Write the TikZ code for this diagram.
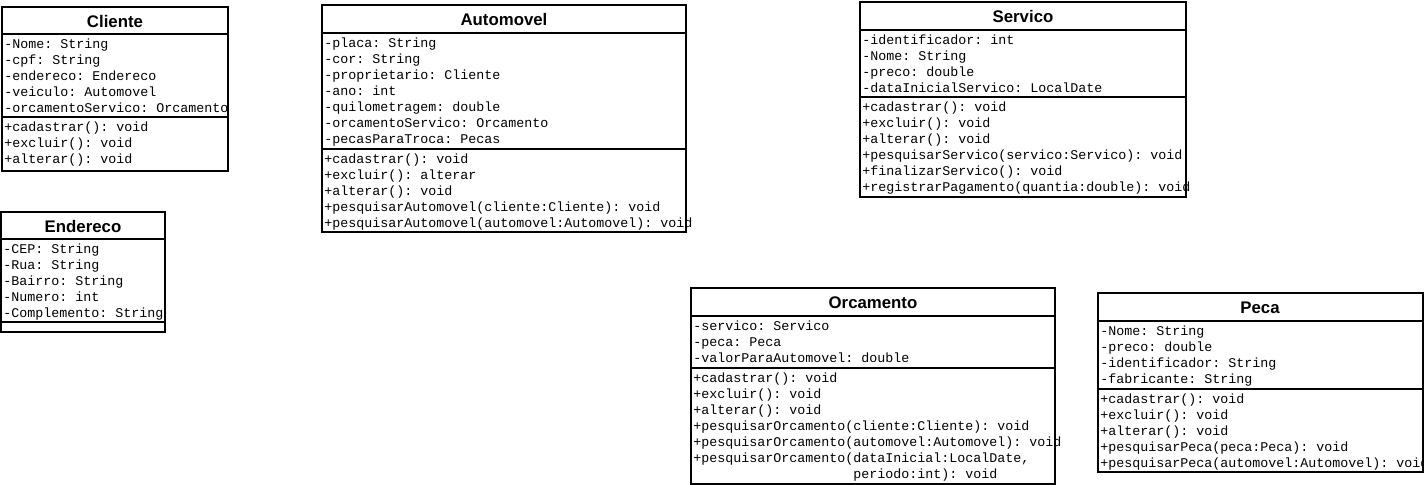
\documentclass[tikz,border=0pt]{standalone}
\usepackage{fontspec}
\setmainfont{Liberation Sans}
\newfontfamily\umlmono{Liberation Mono}
\usepackage{tikz}

\tikzset{
  classbox/.style={draw=black, line width=1pt, fill=white},
  divider/.style={draw=black, line width=1pt},
  classname/.style={font=\bfseries\fontsize{8.4}{10}\selectfont, inner sep=0pt,
    text height=6pt, text depth=0pt},
  members/.style={font=\umlmono\fontsize{6.667}{8}\selectfont\frenchspacing, inner sep=0pt,
    anchor=north west, align=left},
}

\begin{document}
\begin{tikzpicture}[x=0.5pt, y=-0.5pt]

    \fill[white] (0, 0) rectangle (1424, 485);
    \useasboundingbox (0, 0) rectangle (1424, 485);

    % Cliente
    \draw[classbox] (2, 7) rectangle (228, 171);
    \draw[divider] (2, 34) -- (228, 34);
    \draw[divider] (2, 117) -- (228, 117);
    \node[classname] (cliente) at (115, 21.5) {Cliente};
    \node[members] (cliente-attr) at (4, 36.5) {\strut-Nome: String\\-cpf: String\\-endereco: Endereco\\-veiculo: Automovel\\-orcamentoServico: Orcamento};
    \node[members] (cliente-ops) at (4, 119.5) {\strut+cadastrar(): void\\+excluir(): void\\+alterar(): void};

    % Endereco
    \draw[classbox] (1, 212) rectangle (165, 332);
    \draw[divider] (1, 239) -- (165, 239);
    \draw[divider] (1, 322) -- (165, 322);
    \node[classname] (endereco) at (83, 226.5) {Endereco};
    \node[members] (endereco-attr) at (3, 241.5) {\strut-CEP: String\\-Rua: String\\-Bairro: String\\-Numero: int\\-Complemento: String};

    % Automovel
    \draw[classbox] (322, 5) rectangle (686, 232);
    \draw[divider] (322, 33) -- (686, 33);
    \draw[divider] (322, 149) -- (686, 149);
    \node[classname] (automovel) at (504, 20) {Automovel};
    \node[members] (automovel-attr) at (324, 35.5) {\strut-placa: String\\-cor: String\\-proprietario: Cliente\\-ano: int\\-quilometragem: double\\-orcamentoServico: Orcamento\\-pecasParaTroca: Pecas};
    \node[members] (automovel-ops) at (324, 151.5) {\strut+cadastrar(): void\\+excluir(): alterar\\+alterar(): void\\+pesquisarAutomovel(cliente:Cliente): void\\+pesquisarAutomovel(automovel:Automovel): void};

    % Servico
    \draw[classbox] (860, 2) rectangle (1186, 197);
    \draw[divider] (860, 30) -- (1186, 30);
    \draw[divider] (860, 97) -- (1186, 97);
    \node[classname] (servico) at (1023, 17) {Servico};
    \node[members] (servico-attr) at (862, 32.5) {\strut-identificador: int\\-Nome: String\\-preco: double\\-dataInicialServico: LocalDate};
    \node[members] (servico-ops) at (862, 99.5) {\strut+cadastrar(): void\\+excluir(): void\\+alterar(): void\\+pesquisarServico(servico:Servico): void\\+finalizarServico(): void\\+registrarPagamento(quantia:double): void};

    % Orcamento
    \draw[classbox] (691, 288) rectangle (1055, 484);
    \draw[divider] (691, 316) -- (1055, 316);
    \draw[divider] (691, 368) -- (1055, 368);
    \node[classname] (orcamento) at (873, 303) {Orcamento};
    \node[members] (orcamento-attr) at (693, 318.5) {\strut-servico: Servico\\-peca: Peca\\-valorParaAutomovel: double};
    \node[members] (orcamento-ops) at (693, 370.5) {\strut+cadastrar(): void\\+excluir(): void\\+alterar(): void\\+pesquisarOrcamento(cliente:Cliente): void\\+pesquisarOrcamento(automovel:Automovel): void\\+pesquisarOrcamento(dataInicial:LocalDate,\\\phantom{+pesquisarOrcamento(}periodo:int): void};

    % Peca
    \draw[classbox] (1098, 293) rectangle (1423, 472);
    \draw[divider] (1098, 321) -- (1423, 321);
    \draw[divider] (1098, 389) -- (1423, 389);
    \node[classname] (peca) at (1260, 308) {Peca};
    \node[members] (peca-attr) at (1100, 323.5) {\strut-Nome: String\\-preco: double\\-identificador: String\\-fabricante: String};
    \node[members] (peca-ops) at (1100, 391.5) {\strut+cadastrar(): void\\+excluir(): void\\+alterar(): void\\+pesquisarPeca(peca:Peca): void\\+pesquisarPeca(automovel:Automovel): void};

\end{tikzpicture}
\end{document}
